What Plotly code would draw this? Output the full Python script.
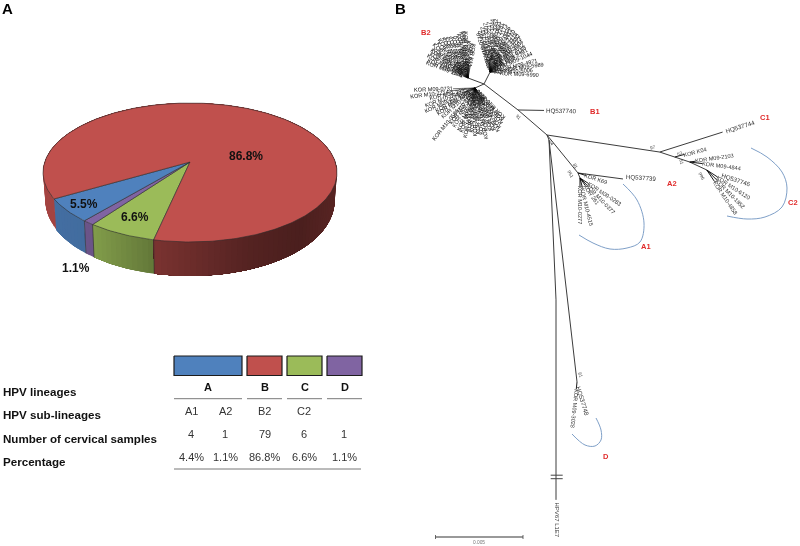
import numpy as np
import plotly.graph_objects as go

#### ==== ####
#### Data ####
#### ==== ####
## Panel A, pie shares (%), in drawing order from the red/green edge, clockwise on screen
pie_labels = ['C', 'D', 'A', 'B']
pie_shares = [6.6, 1.1, 5.5, 86.8]
pie_colors = ['#9bbb59', '#8064a2', '#4f81bd', '#c0504d']
pie_texts = ['6.6%', '1.1%', '5.5%', '86.8%']

## Panel A, table
lineages = ['A', 'B', 'C', 'D']
lineage_colors = ['#4f81bd', '#c0504d', '#9bbb59', '#8064a2']
row_names = ['HPV lineages', 'HPV sub-lineages', 'Number of cervical samples', 'Percentage']
sub_lineages = ['A1', 'A2', 'B2', 'C2', '']
sample_counts = ['4', '1', '79', '6', '1']
percentages = ['4.4%', '1.1%', '86.8%', '6.6%', '1.1%']

## Panel B, tree edges: parent, child, branch length, direction (deg, clockwise from +x)
tree_edges = [
    ('root', 'Bn', 38.3, 220.8), ('Bn', 'B1', 26, 1), ('Bn', 'Bhub', 42.8, 217.4),
    ('Bhub', 'UR', 13.4, -63), ('Bhub', 'UL', 17, 200.6), ('Bhub', 'LO', 9.8, 156),
    ('root', 'Cn', 114, 8.6), ('Cn', 'C1', 66, -17.6), ('Cn', 'C2k', 15.8, 18.4),
    ('C2k', 'C2a', 15.8, 18.4), ('C2a', 'C2b', 18.8, 25),
    ('root', 'An', 49, 50.8), ('An', 'Ahub', 5.4, 68), ('An', 'A2', 45.4, 7.6),
    ('root', 'low', 5.4, 68), ('low', 'Dn', 243.6, 83.4), ('low', 'Out', 160, 87.5),
    ('Out', 'OutEnd', 200, 90),
]
## Leaves: parent, stub length, direction, name
tree_leaves = [
    ('Bn', 29, 1, 'HQ537740'), ('Cn', 70, -17.6, 'HQ537744'), ('An', 49, 4, 'HQ537739'),
    ('An', 8, 18, 'KOR K69'), ('Ahub', 10, 33, 'KOR M09-0283'), ('Ahub', 10, 46, 'KOR M10-0377'),
    ('Ahub', 9, 55, 'KOR 261'), ('Ahub', 10, 76, 'KOR M10-4515'), ('Ahub', 8, 90, 'KOR M10-0277'),
    ('C2k', 10, -15, 'KOR K04'), ('C2a', 6, -8, 'KOR M09-2103'), ('C2a', 13, 7, 'KOR M09-4844'),
    ('C2b', 16, 18, 'HQ537746'), ('C2b', 13, 33, 'KOR M10-6120'), ('C2b', 14, 45, 'KOR M10-1852'),
    ('C2b', 14, 56, 'KOR M10-4858'),
    ('Dn', 5, 73, 'HQ537748'), ('Dn', 7, 96, 'KOR M09-3028'),
]
## B2 fans (labels too small to read, ids are estimates)
fan_ur_angles = [-108, -104, -100, -96, -92, -88, -84, -80, -76, -72, -68, -64, -60, -56, -52, -48, -44, -40, -36, -32, -24, -14, -8, -3, 3]
fan_ur_stubs = [2, 4, 7, 10, 12, 14, 15, 13, 12, 11, 10, 9, 9, 8, 8, 7, 6, 5, 5, 4, 7, 10, 15, 4, 10]
fan_ur_ids = ['M10-0719', 'M09-0412', 'M09-1537', 'M10-3307', 'M09-2217', 'M10-1044', 'M09-3352', 'M09-0631', 'M10-2281', 'M09-1173',
              'M10-0926', 'M09-4412', 'M09-2760', 'M10-3318', 'M09-1582', 'M10-0733', 'M09-3904', 'M10-2652', 'M09-0188', 'M09-2391',
              'M09-1044', 'M09-4971', 'M09-5989', 'M10-5006', 'M09-6990']
fan_ul_angles = [-160, -156, -151, -147, -143, -139, -135, -131, -127, -122, -118, -114, -110, -106, -102, -98, -95, -92, -88, -84, -80]
fan_ul_stubs = [6, 5, 7, 6, 8, 7, 9, 8, 9, 9, 7, 6, 5, 5, 6, 8, 8, 8, 14, 12, 12]
fan_ul_ids = ['M09-1120', 'M10-0631', 'M09-0274', 'M10-2412', 'M10-3381', 'M09-1708', 'M09-2946', 'M10-1199', 'M10-0558', 'M09-3022',
              'M09-3317', 'M10-1409', 'M09-0527', 'M09-4108', 'M10-2275', 'M09-1314', 'M10-4403', 'M09-1866', 'K07', 'K03', 'K11']
fan_lo_angles = [178, 173, 167, 160, 155, 150, 145, 138, 129, 124, 118, 112, 107, 102, 98, 94, 90, 86, 82, 78, 74, 70, 66, 62, 58, 54, 50, 46]
fan_lo_stubs = [22, 26, 8, 14, 16, 6, 7, 5, 28, 4, 6, 7, 8, 12, 5, 6, 10, 7, 8, 14, 6, 7, 8, 10, 8, 6, 4, 3]
fan_lo_ids = ['M09-0731', 'M10-2214', 'M09-3385', 'M10-0942', 'M09-4176', 'M10-1308', 'M09-2563', 'M10-3027', 'M10-0586', 'M10-1646',
              'M09-1419', 'M10-2790', 'M09-3209', 'M09-3651', 'M10-0164', 'M09-2038', 'M09-4470', 'M10-2721', 'M10-1275', 'M10-3896',
              'M09-0927', 'M10-2143', 'M09-1652', 'M10-0498', 'M09-3383', 'M10-1857', 'M09-2604', 'M10-3140']

## Panel B, small support values and clade names
support_texts = ['91', '54', '81', '951', '97', '51', '53', '996', '91']
clade_names = ['B2', 'B1', 'C1', 'A2', 'C2', 'A1', 'D']

## Blue clade arcs
arc_a1_x = [623, 637, 644, 640, 627, 610, 593, 579]
arc_a1_y = [184, 200, 223, 242, 248, 249, 243, 235]
arc_c2_x = [751, 767, 782, 787, 782, 765, 747, 727]
arc_c2_y = [148, 157, 172, 188, 207, 217, 219, 216]
arc_d_x = [596, 601, 601, 595, 585, 572]
arc_d_y = [418, 430, 440, 446, 445, 434]

#### ======= ####
#### Helpers ####
#### ======= ####
FONT = 'Liberation Sans'
fig = go.Figure()
notes = []

def text(s, x, y, size, color='#222222', bold=False, angle=0, anchor='center'):
    notes.append(dict(text='<b>%s</b>' % s if bold else s, x=x, y=y, xref='x', yref='y',
                      showarrow=False, textangle=angle, xanchor=anchor, yanchor='middle',
                      font=dict(family=FONT, size=size, color=color)))

def poly(x, y, fill, line=None, lw=0.6):
    fig.add_trace(go.Scatter(x=x, y=y, mode='lines', fill='toself', fillcolor=fill,
                             line=dict(color=line or fill, width=lw), hoverinfo='skip'))

def path(x, y, color='#333333', lw=0.9, shape='linear'):
    fig.add_trace(go.Scatter(x=x, y=y, mode='lines', line=dict(color=color, width=lw, shape=shape),
                             hoverinfo='skip'))

def shade(hex_color, f):
    rgb = [int(hex_color[i:i+2], 16) for i in (1, 3, 5)]
    return 'rgb(%d,%d,%d)' % tuple(int(c*f) for c in rgb)

#### ============== ####
#### Panel A, pie  ####
#### ============== ####
## Perspective view of a flat disc
apex_x, apex_y = 190, 162
A, B, k = 145.3, 67.9, 0.151

def top_xy(theta):
    u, v = -np.sin(theta), np.cos(theta)
    d = 1 - k*v
    return apex_x + A*u/d, apex_y + B*v/d

def base_xy(theta):
    x, y = top_xy(theta)
    v = np.clip(np.cos(theta), 0, 1)
    return apex_x + (x - apex_x)*0.985, y + 22 + 12*np.sqrt(v)

start = np.radians(12.3)
edges = start + np.radians(np.cumsum([0] + pie_shares)*3.6)

## Rim first, strip by strip for the shading; each strip runs on under the next one so no seams show
shade_x = [43, 92, 154, 250, 300, 337]
shade_f = [0.86, 0.84, 0.64, 0.44, 0.39, 0.46]
for i, c in enumerate(pie_colors):
    t0, t1 = edges[i], edges[i+1]
    ts = np.arange(t0, t1, np.radians(2)).tolist() + [t1]
    for a, b in zip(ts[:-1], ts[1:]):
        if np.cos((a+b)/2) < -0.06:
            continue
        tt = np.linspace(a, t1, 40)
        xt, yt = top_xy(tt)
        xb, yb = base_xy(tt)
        mid_x = top_xy((a+b)/2)[0]
        f = np.interp(mid_x, shade_x, shade_f)
        poly(np.r_[xt, xb[::-1]], np.r_[yt, yb[::-1]], shade(c, f), lw=0)

## Rim outline
for t in edges[:3]:
    xt, yt = top_xy(t)
    xb, yb = base_xy(t)
    path([xt, xb], [yt, yb], '#2a2a2a', 0.6)

## Top faces
for i, c in enumerate(pie_colors):
    tt = np.linspace(edges[i], edges[i+1], max(4, int(pie_shares[i]*4)))
    xt, yt = top_xy(tt)
    poly(np.r_[apex_x, xt, apex_x], np.r_[apex_y, yt, apex_y], c, '#2b2b2b', 0.6)

text(pie_texts[3], 246, 156, 12, '#111111', True)
text(pie_texts[0], 135, 217, 12, '#111111', True)
text(pie_texts[2], 84, 204, 12, '#111111', True)
text(pie_texts[1], 76, 268, 12, '#111111', True)
text('A', 7, 8, 15, '#000000', True)

#### ================ ####
#### Panel A, table   ####
#### ================ ####
col_left = [174, 247, 287, 327]
col_right = [242, 282, 322, 362]
for name, c, x0, x1 in zip(lineages, lineage_colors, col_left, col_right):
    poly([x0, x1, x1, x0, x0], [356, 356, 375.5, 375.5, 356], c, '#1c1c1c', 1.2)
    text(name, (x0+x1)/2, 387, 11, '#111111', True)
    path([x0, x1], [398.7, 398.7], '#555555', 0.8)
path([174, 361], [469, 469], '#777777', 1)

for name, y in zip(row_names, [391, 414, 438, 461]):
    text(name, 1, y, 11.6, '#111111', True, anchor='left')

sub_x = [191, 225, 264.5, 304, 344]
for vals, y in zip([sub_lineages, sample_counts, percentages], [411, 434, 457]):
    for s, x in zip(vals, sub_x):
        if s:
            text(s, x, y, 11, '#333333')

#### ============== ####
#### Panel B, tree  ####
#### ============== ####
nodes = {'root': (547, 135)}
for parent, child, length, angle in tree_edges:
    px, py = nodes[parent]
    nodes[child] = (px + length*np.cos(np.radians(angle)), py + length*np.sin(np.radians(angle)))
    path([px, nodes[child][0]], [py, nodes[child][1]], '#3c3c3c', 1)

def leaf(parent, stub, angle, name, size=5.6, flip=False, stub_line=True, color='#303030', stub_w=0.9):
    px, py = nodes[parent]
    r = np.radians(angle)
    sx, sy = px + stub*np.cos(r), py + stub*np.sin(r)
    if stub_line:
        path([px, sx], [py, sy], '#000000', stub_w)
    half = len(name)*size*0.29
    cx, cy = sx + half*np.cos(r), sy + half*np.sin(r)
    text(name, cx, cy, size, color, angle=angle + 180 if flip else angle)

for parent, stub, angle, name in tree_leaves:
    hq = name[:2] == 'HQ'
    leaf(parent, stub, angle, name, size=6.2 if hq else 5.6, stub_line=not hq)

for hub, angles, stubs, ids, flip in [('UR', fan_ur_angles, fan_ur_stubs, fan_ur_ids, False),
                                      ('UL', fan_ul_angles, fan_ul_stubs, fan_ul_ids, True),
                                      ('LO', fan_lo_angles, fan_lo_stubs, fan_lo_ids, True)]:
    for a, st, name in zip(angles, stubs, ids):
        leaf(hub, st, a, 'KOR ' + name, flip=flip, color='#111111', stub_w=0.55)

## Break in the outgroup branch, its name, and the scale bar
path([550.7, 562.7], [475.2, 475.2], '#444444', 1)
path([550.7, 562.7], [478.7, 478.7], '#444444', 1)
text('HPV67 L1E7', 556.5, 520, 6, '#333333', angle=90)
path([435.5, 523], [537, 537], '#777777', 1.3)
path([435.5, 435.5], [535, 539], '#444444', 0.8)
path([523, 523], [535, 539], '#444444', 0.8)
text('0.005', 479, 542.5, 4.8, '#777777')

support_x = [519, 552, 576, 571, 653, 682, 680, 702, 581]
support_y = [117, 143, 166, 174, 147, 162, 153, 176, 375]
support_a = [45, 60, 60, 60, -15, 80, -20, 60, 70]
for s, x, y, a in zip(support_texts, support_x, support_y, support_a):
    text(s, x, y, 4.6, '#444444', angle=a)

clade_x = [426, 595, 765, 672, 793, 646, 606]
clade_y = [32, 111, 117, 183, 202, 246, 456]
for s, x, y in zip(clade_names, clade_x, clade_y):
    text(s, x, y, 7.5, '#e02a2a', True)

for ax, ay in [(arc_a1_x, arc_a1_y), (arc_c2_x, arc_c2_y), (arc_d_x, arc_d_y)]:
    path(ax, ay, '#7fa0c8', 1, 'spline')

text('B', 400, 8, 15, '#000000', True)

#### ====== ####
#### Layout ####
#### ====== ####
fig.update_xaxes(range=[0, 800], visible=False, fixedrange=True)
fig.update_yaxes(range=[546, 0], visible=False, fixedrange=True)
fig.update_layout(width=800, height=546,
                  margin=dict(l=0, r=0, t=0, b=0),
                  plot_bgcolor='#ffffff', paper_bgcolor='#ffffff',
                  showlegend=False, annotations=notes)

## The reference is a soft, downscaled bitmap
fig.write_html("out.html", config=dict(displayModeBar=False),
               post_script="document.body.style.margin='0';"
                           "document.getElementById('{plot_id}').style.filter='blur(0.4px)';")
